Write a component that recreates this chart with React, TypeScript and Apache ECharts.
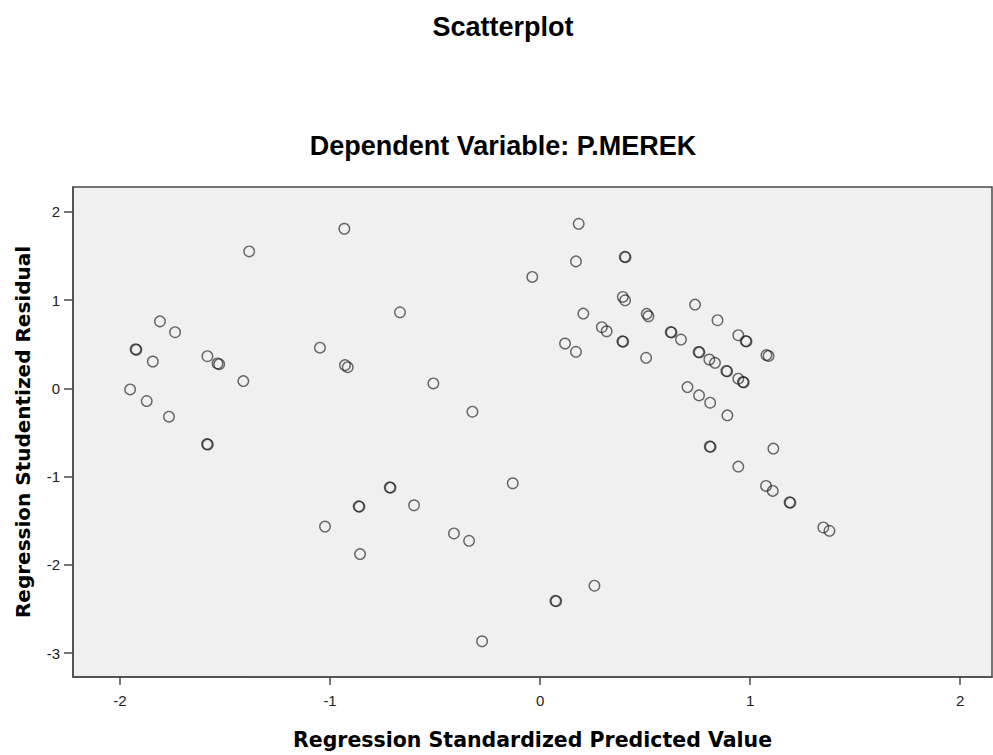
import React, { useEffect, useRef } from "react";
import * as echarts from "echarts";

const chartTitle = "Scatterplot";
const chartSubtitle = "Dependent Variable: P.MEREK";
const xAxisName = "Regression Standardized Predicted Value";
const yAxisName = "Regression Studentized Residual";
const xTicks = [-2, -1, 0, 1, 2];
const yTicks = [-3, -2, -1, 0, 1, 2];

// Regression standardized predicted values
const predicted = [
  -1.385, -1.81, -1.738, -1.926, -1.922, -1.844, -1.584, -1.536, -1.528, -1.413,
  -1.952, -1.873, -1.767, -1.586, -1.582, -1.024, -0.932, -0.667, -1.048, -0.929,
  -0.916, -0.508, -0.322, -0.716, -0.712, -0.864, -0.86, -0.6, -0.857, -0.41,
  -0.338, -0.13, 0.259, 0.073, 0.077, -0.276, -0.037, 0.184, 0.171, 0.403,
  0.407, 0.394, 0.405, 0.508, 0.516, 0.206, 0.294, 0.317, 0.392, 0.396,
  0.119, 0.171, 0.505, 0.738, 0.845, 0.622, 0.626, 0.671, 0.944, 0.979,
  0.983, 1.078, 1.088, 0.755, 0.759, 0.806, 0.833, 0.887, 0.891, 0.944,
  0.966, 0.97, 0.702, 0.757, 0.81, 0.892, 0.808, 0.812, 1.111, 0.944,
  1.076, 1.108, 1.188, 1.192, 1.349, 1.378,
];

// Regression studentized residuals
const residual = [
  1.553, 0.76, 0.637, 0.445, 0.438, 0.305, 0.365, 0.283, 0.275, 0.083,
  -0.011, -0.143, -0.32, -0.631, -0.636, -1.565, 1.81, 0.863, 0.462, 0.264,
  0.241, 0.057, -0.264, -1.121, -1.125, -1.336, -1.34, -1.324, -1.878, -1.644,
  -1.727, -1.075, -2.236, -2.408, -2.412, -2.866, 1.264, 1.866, 1.44, 1.492,
  1.488, 1.037, 0.999, 0.845, 0.818, 0.848, 0.694, 0.648, 0.534, 0.53,
  0.509, 0.415, 0.347, 0.95, 0.773, 0.639, 0.635, 0.554, 0.603, 0.537,
  0.533, 0.378, 0.368, 0.413, 0.409, 0.328, 0.29, 0.198, 0.194, 0.11,
  0.073, 0.069, 0.015, -0.079, -0.162, -0.305, -0.658, -0.662, -0.682, -0.886,
  -1.105, -1.162, -1.291, -1.295, -1.576, -1.614,
];

const FONT = "'Liberation Sans', Arial, sans-serif";
const AXIS_FONT = "'DejaVu Sans', Verdana, sans-serif";

export default function App() {
  const ref = useRef<HTMLDivElement>(null);

  useEffect(() => {
    if (!ref.current) return;
    const chart = echarts.init(ref.current, undefined, { renderer: "svg" });
    const data = predicted.map((x, i) => [x, residual[i]]);
    chart.setOption({
      animation: false,
      backgroundColor: "#ffffff",
      textStyle: { fontFamily: FONT },
      title: [
        {
          text: chartTitle,
          left: 498,
          top: 8,
          textAlign: "center",
          textStyle: { fontSize: 27, fontWeight: "bold", color: "#000", fontFamily: FONT },
        },
        {
          text: chartSubtitle,
          left: 498,
          top: 127,
          textAlign: "center",
          textStyle: { fontSize: 27, fontWeight: "bold", color: "#000", fontFamily: FONT },
        },
      ],
      grid: {
        left: 73,
        right: 1,
        top: 187,
        bottom: 77,
        show: true,
        backgroundColor: "#f0f0f0",
        borderColor: "#4a4a4a",
        borderWidth: 1.5,
      },
      xAxis: {
        type: "value",
        min: -2.224,
        max: 2.152,
        name: xAxisName,
        nameLocation: "middle",
        nameGap: 52,
        nameTextStyle: { fontSize: 20.5, fontWeight: "bold", color: "#000", fontFamily: AXIS_FONT },
        splitLine: { show: false },
        axisLine: { show: true, onZero: false, lineStyle: { color: "#4a4a4a", width: 1.5 } },
        axisTick: {
          show: true,
          length: 8,
          customValues: xTicks,
          lineStyle: { color: "#4a4a4a", width: 1.5 },
        },
        axisLabel: {
          customValues: xTicks,
          margin: 16,
          fontSize: 15,
          color: "#222",
          fontFamily: FONT,
        },
      },
      yAxis: {
        type: "value",
        min: -3.271,
        max: 2.283,
        name: yAxisName,
        nameLocation: "middle",
        nameGap: 40,
        nameTextStyle: { fontSize: 20, fontWeight: "bold", color: "#000", fontFamily: AXIS_FONT },
        splitLine: { show: false },
        axisLine: { show: true, onZero: false, lineStyle: { color: "#4a4a4a", width: 1.5 } },
        axisTick: {
          show: true,
          length: 9,
          customValues: yTicks,
          lineStyle: { color: "#4a4a4a", width: 1.5 },
        },
        axisLabel: {
          customValues: yTicks,
          margin: 13,
          fontSize: 15,
          color: "#222",
          fontFamily: FONT,
        },
      },
      series: [
        {
          type: "scatter",
          data,
          symbol: "circle",
          symbolSize: 10.5,
          itemStyle: {
            color: "rgba(0,0,0,0)",
            borderColor: "rgba(20,20,20,0.78)",
            borderWidth: 1.4,
          },
          emphasis: { disabled: true },
        },
      ],
    });
    return () => chart.dispose();
  }, []);

  return (
    <div
      ref={ref}
      style={{ position: "fixed", left: 0, top: 0, width: 993, height: 755 }}
    />
  );
}
